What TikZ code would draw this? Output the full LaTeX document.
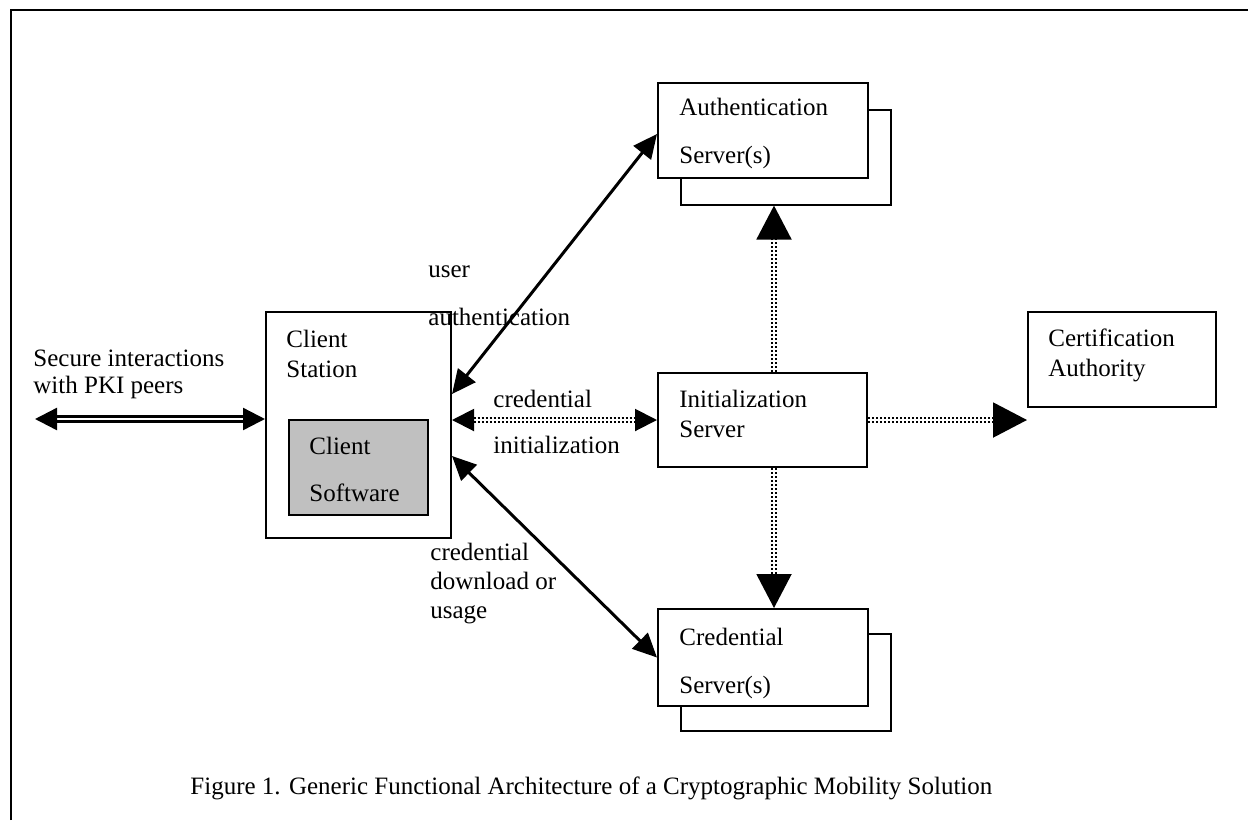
\documentclass[tikz,border=0pt]{standalone}
\usepackage{fontspec}
\setmainfont{Liberation Serif}
\usetikzlibrary{arrows.meta}

\begin{document}
\begin{tikzpicture}[x=0.5pt,y=-0.5pt,
    font=\fontsize{12.5}{15}\selectfont,
    box/.style={draw, line width=1pt, fill=white, anchor=north west, inner sep=0pt},
    backbox/.style={draw, line width=0.8pt, anchor=north west, inner sep=0pt},
    txt/.style={anchor=base west, align=left, inner sep=0pt},
    solidarrow/.style={line width=1.5pt,
        {Triangle[length=12pt,width=11pt]}-{Triangle[length=12pt,width=11pt]}},
    peerarrow/.style={double, line width=1.2pt, double distance=1.3pt,
        {Triangle[length=11pt,width=11pt]}-{Triangle[length=11pt,width=11pt]}},
    dotarrow/.style={double, line width=1pt, double distance=1.4pt,
        dash pattern=on 1pt off 1pt},
    bighead/.style={-{Triangle[length=17pt,width=17.5pt]}}]
    \useasboundingbox (0,0) rectangle (1248,820);
    % frame
    \draw[line width=1pt] (11,820) -- (11,10) -- (1248,10);

    % servers with a second sheet behind
    \node[backbox, minimum width=105pt, minimum height=47.5pt] (authback) at (680,109) {};
    \node[box, minimum width=105pt, minimum height=47.5pt] (auth) at (657,82) {};
    \node[backbox, minimum width=105pt, minimum height=48.5pt] (credback) at (680,633) {};
    \node[box, minimum width=105pt, minimum height=48.5pt] (cred) at (657,608) {};
    \node[box, minimum width=104.5pt, minimum height=47pt] (init) at (657,372) {};
    \node[box, minimum width=94pt, minimum height=47.5pt] (cert) at (1027,311) {};
    \node[box, minimum width=92.5pt, minimum height=113pt] (client) at (265,311) {};
    \node[box, fill={rgb,255:red,192;green,192;blue,192}, minimum width=69.5pt, minimum height=47.5pt] (soft) at (288,419) {};

    % box texts
    \node[txt] (authtxt) at (679,163) {Authentication\\[9pt]Server(s)};
    \node[txt] (credtxt) at (679,693) {Credential\\[9pt]Server(s)};
    \node[txt] (inittxt) at (679,437) {Initialization\\Server};
    \node[txt] (certtxt) at (1048,376) {Certification\\Authority};
    \node[txt] (clienttxt) at (286,377) {Client\\Station};
    \node[txt] (softtxt) at (309,501) {Client\\[8.5pt]Software};

    % connector labels
    \node[txt] (peertxt) at (33,393) {Secure interactions\\[-1.5pt]with PKI peers};
    \node[txt] (usertxt) at (428,325) {user\\[9pt]authentication};
    \node[txt] (inittlbl) at (493,453) {credential\\[8pt]initialization};
    \node[txt] (dltxt) at (430,618) {credential\\[-0.5pt]download or\\[-0.5pt]usage};

    % connectors
    \coordinate (peer) at (35,419);
    \coordinate (upout) at ([xshift=5.75pt]init.north);
    \coordinate (downout) at ([xshift=5.75pt]init.south);
    \coordinate (certin) at (cert.south west |- init.east);
    \draw[peerarrow] (peer) -- (peer -| client.west);
    \draw[solidarrow] ([yshift=15.5pt]client.east) -- ([yshift=-1.75pt]auth.west);
    \draw[solidarrow] ([yshift=-15.5pt]client.east) -- (cred.west);
    \draw[dotarrow, {Triangle[length=11pt,width=11pt]}-{Triangle[length=11pt,width=11pt]}] (client.east |- init.west) -- (init.west);
    \draw[dotarrow, bighead] (upout) -- (upout |- authback.south);
    \draw[dotarrow, bighead] (downout) -- (downout |- cred.north);
    \draw[dotarrow, bighead] (init.east) -- (certin);

    % caption
    \node[txt] (caption) at (190,794) {Figure 1. Generic Functional Architecture of a Cryptographic Mobility Solution};
\end{tikzpicture}
\end{document}
